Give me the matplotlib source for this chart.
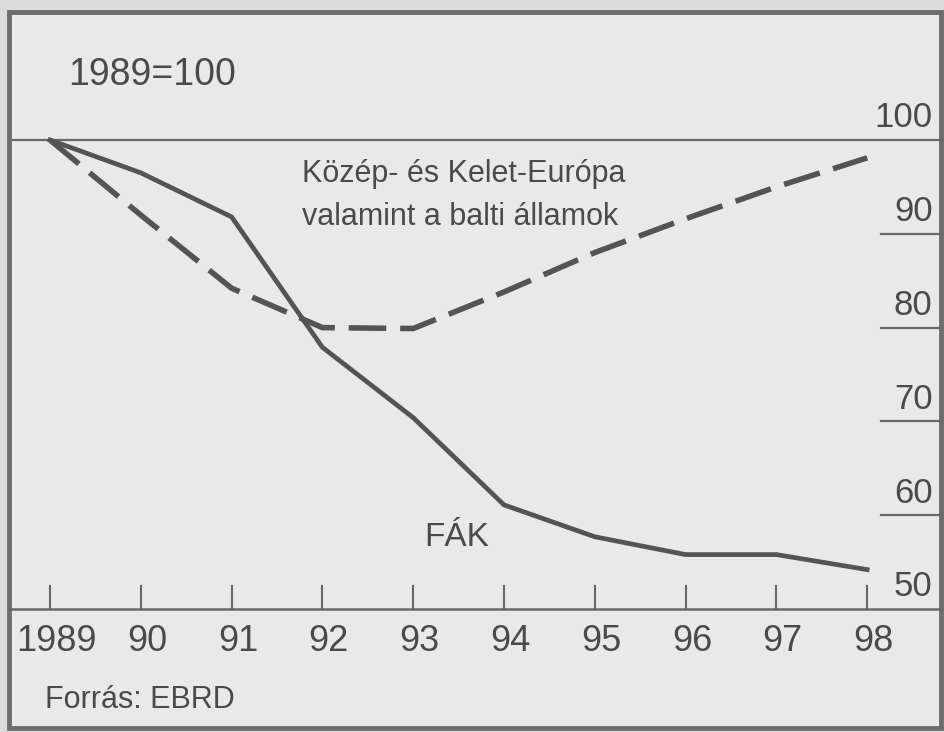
import matplotlib
matplotlib.use('Agg')
import matplotlib.pyplot as plt
from matplotlib import font_manager
from matplotlib.patches import Rectangle

# adatok (1989=100)
years = [1989, 1990, 1991, 1992, 1993, 1994, 1995, 1996, 1997, 1998]
year_labels = ['1989', '90', '91', '92', '93', '94', '95', '96', '97', '98']
fak = [100, 96.5, 91.8, 77.9, 70.4, 61.1, 57.7, 55.8, 55.8, 54.2]
kke = [100, 92.0, 84.2, 80.0, 79.9, 83.8, 88.0, 91.6, 95.0, 98.1]
y_ticks = [100, 90, 80, 70, 60, 50]

names = {f.name for f in font_manager.fontManager.ttflist}
fam = 'Liberation Sans Narrow' if 'Liberation Sans Narrow' in names else 'Liberation Sans'
plt.rcParams['font.family'] = [fam, 'DejaVu Sans']
plt.rcParams['lines.scale_dashes'] = False

bg = '#e9e9ea'
ink = '#555355'
txt = '#4b494b'

fig = plt.figure(figsize=(9.44, 7.32), dpi=100, facecolor='#dcdbdc')
# keret
fig.patches.append(Rectangle((9 / 944, 4 / 732), 932 / 944, 716 / 732, transform=fig.transFigure,
                             facecolor=bg, edgecolor='#6f6c6f', linewidth=3.5, zorder=0))
ax = fig.add_axes([0, 0, 1, 1], zorder=2)
# x: 1989 -> px 50, 90.8 px/ev ; y: 100 -> px 140, 50 -> px 609
ax.set_xlim(1989 - 50 / 90.8, 1989 + 894 / 90.8)
ax.set_ylim(100 - (732 - 140) / 9.38, 100 + 140 / 9.38)
ax.axis('off')

x0, x1 = ax.get_xlim()
ax.plot([x0 + 0.12, x1], [100, 100], color='#6a686a', lw=1.6)
ax.plot([x0 + 0.12, x1], [50, 50], color='#6a686a', lw=1.8)
for v in y_ticks[1:-1]:
    ax.plot([1998.15, x1], [v, v], color='#6a686a', lw=1.6)
for v in y_ticks:
    ax.text(1998.72, v + 0.6, str(v), ha='right', va='bottom', fontsize=25, color=txt)

for yr, lab in zip(years, year_labels):
    ax.plot([yr, yr], [50, 52.4], color='#6a686a', lw=1.5)
    ax.text(yr + 0.07, 46.5, lab, ha='center', va='center', fontsize=26, color=txt)

ax.plot(years, fak, color=ink, lw=3.4, solid_joinstyle='miter')
ax.plot(years, kke, color=ink, lw=4, dashes=(27, 10), solid_capstyle='butt')

ax.text(1989.2, 106.93, '1989=100', ha='left', va='center', fontsize=27, color=txt)
ax.text(1991.775, 95.52, 'Közép- és Kelet-Európa', ha='left', va='baseline', fontsize=22, color=txt)
ax.text(1991.775, 90.94, 'valamint a balti államok', ha='left', va='baseline', fontsize=22, color=txt)
ax.text(1993.12, 57.6, 'FÁK', ha='left', va='center', fontsize=24, color=txt)
ax.text(1988.94, 40.3, 'Forrás: EBRD', ha='left', va='center', fontsize=22, color=txt)

fig.savefig('out.png', dpi=100, facecolor=fig.get_facecolor())
